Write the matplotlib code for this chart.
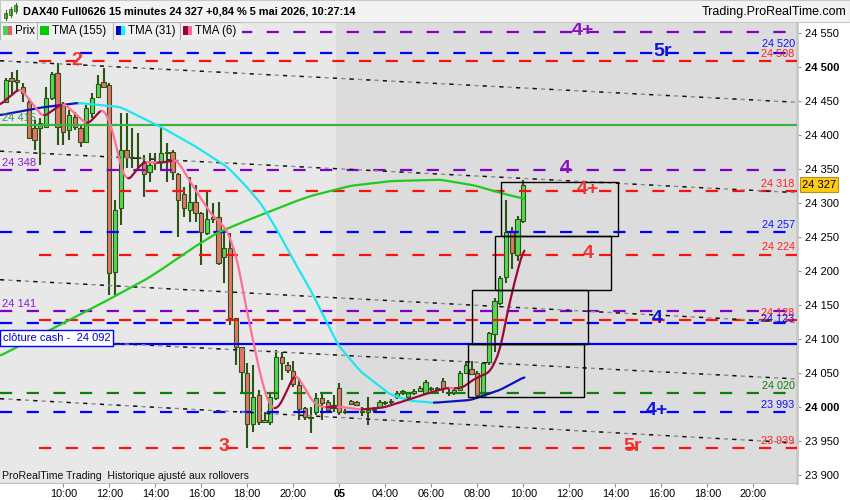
import numpy as np
import matplotlib
matplotlib.use('Agg')
import matplotlib.pyplot as plt
from matplotlib.patches import Rectangle

plt.rcParams['font.family'] = ['Liberation Sans', 'DejaVu Sans']

# ---- candles (15 min), x = candle index, 0 = 10:00 on 4 May ----
candle_idx = np.arange(-10, 81)
opens = [
    24448, 24484, 24481, 24471, 24448, 24410, 24410, 24412, 24454, 24491,
    24444, 24407, 24426, 24410, 24390, 24432, 24456, 24478, 24473, 24198,
    24293, 24378, 24368, 24366, 24360, 24346, 24359, 24360, 24374, 24375,
    24343, 24313, 24290, 24301, 24285, 24256, 24279, 24279, 24221, 24234,
    24131, 24088, 24050, 23975, 24018, 23977, 23977, 24013, 24074, 24062,
    24052, 24032, 23998, 23985, 23993, 24013, 24007, 23999, 24028, 23994,
    24009, 24007, 23994, 23993, 23995, 24000, 24005, 24007, 24015, 24023,
    24015, 24020, 24024, 24021, 24026, 24027, 24038, 24022, 24021, 24025,
    24050, 24056, 24050, 24015, 24066, 24107, 24153, 24191, 24259, 24224,
    24274]
highs = [
    24484, 24493, 24496, 24476, 24454, 24422, 24425, 24471, 24493, 24506,
    24448, 24437, 24434, 24415, 24444, 24462, 24488, 24499, 24476, 24304,
    24432, 24432, 24410, 24403, 24371, 24374, 24374, 24410, 24388, 24378,
    24344, 24323, 24338, 24326, 24287, 24316, 24300, 24301, 24256, 24256,
    24131, 24088, 24065, 24062, 24025, 23993, 24021, 24084, 24080, 24066,
    24068, 24043, 24000, 24000, 24021, 24021, 24010, 24018, 24035, 23997,
    24010, 24009, 24000, 24015, 24000, 24010, 24009, 24012, 24023, 24025,
    24022, 24026, 24030, 24039, 24029, 24029, 24042, 24027, 24028, 24052,
    24068, 24068, 24052, 24066, 24110, 24160, 24193, 24304, 24264, 24280,
    24334]
lows = [
    24447, 24459, 24463, 24448, 24394, 24378, 24356, 24410, 24451, 24385,
    24385, 24393, 24407, 24382, 24388, 24425, 24454, 24469, 24165, 24165,
    24268, 24351, 24351, 24351, 24309, 24331, 24348, 24348, 24331, 24334,
    24250, 24279, 24272, 24272, 24209, 24253, 24271, 24209, 24182, 24120,
    24062, 24021, 23940, 23963, 23973, 23976, 23974, 24010, 24040, 24050,
    24029, 23981, 23981, 23962, 23988, 23981, 23993, 23993, 23988, 23990,
    24003, 24001, 23987, 23974, 23993, 23998, 24003, 24004, 24012, 24018,
    24012, 24018, 24022, 24019, 24024, 24025, 24020, 24016, 24018, 24023,
    24048, 24047, 24013, 24013, 24061, 24081, 24150, 24182, 24202, 24215,
    24271]
closes = [
    24481, 24479, 24478, 24462, 24396, 24393, 24418, 24454, 24490, 24412,
    24404, 24429, 24412, 24390, 24440, 24454, 24475, 24470, 24197, 24290,
    24378, 24368, 24366, 24368, 24343, 24356, 24360, 24374, 24375, 24346,
    24304, 24293, 24301, 24285, 24257, 24276, 24276, 24212, 24234, 24131,
    24088, 24051, 23975, 24015, 23977, 23980, 24015, 24074, 24065, 24054,
    24034, 23997, 23985, 23984, 24013, 24006, 23996, 24002, 23993, 23993,
    24004, 24003, 23992, 23995, 23997, 24007, 24006, 24008, 24021, 24020,
    24021, 24023, 24028, 24037, 24027, 24026, 24028, 24021, 24025, 24050,
    24062, 24049, 24018, 24065, 24108, 24155, 24190, 24257, 24226, 24276,
    24327]

# ---- moving averages ----
tma155_idx = [-11, 6.4, 14.3, 16.9, 22.6, 26.8, 31.3, 34.3, 40.0, 43.0, 49.9, 56.9, 65.6, 71.3, 77.2, 80.2]
tma155_val = [24075, 24151, 24187, 24201, 24234, 24256, 24272, 24282, 24301, 24310, 24325, 24332, 24334, 24326, 24312, 24306]

tma31_idx = [-11, -4.0, 2.6, 9.9, 16.9, 22.6, 28.5, 31.3, 34.3, 37.2, 40.0, 43.0, 47.8, 51.7, 56.9, 60.3, 64.4, 70.8, 76.0, 80.2]
tma31_val = [24429, 24440, 24447, 24441, 24412, 24385, 24353, 24329, 24300, 24260, 24216, 24172, 24091, 24052, 24018, 24009, 24006, 24010, 24025, 24044]

tma6_idx = [-11, -7.5, -3.5, 0, 4.2, 7.0, 8.7, 9.9, 11.1, 13.9, 16.9, 19.8, 22.6, 25.6, 28.5, 30.3, 31.3, 32.5, 33.7, 34.8,
            36.0, 37.2, 38.6, 40.3, 41.7, 43.5, 45.2, 48.2, 51.7, 55.7, 59.8, 63.8, 66.8, 68.5, 69.6, 71.3, 74.3, 76.0, 77.2, 79.0, 80.2]
tma6_val = [24444, 24469, 24426, 24447, 24415, 24440, 24404, 24356, 24331, 24360, 24359, 24363, 24324, 24285, 24260, 24216, 24168, 24118, 24069, 24029,
            24000, 23996, 24018, 24050, 24032, 24006, 23999, 24000, 23996, 23999, 24010, 24021, 24028, 24027, 24029, 24040, 24052, 24084, 24138, 24201, 24235]

# ---- horizontal levels ----
level_price = [24551, 24520, 24508, 24415, 24348, 24318, 24257, 24224, 24141, 24128, 24123, 24092, 24020, 23993, 23939]
level_kind = ['purple', 'blue', 'red', 'green', 'purple', 'red', 'blue', 'red', 'purple', 'red', 'blue', 'blue', 'dgreen', 'blue', 'red']
level_solid = [False, False, False, True, False, False, False, False, False, False, False, True, False, False, False]

right_labels = ['24 520', '24 508', '24 318', '24 257', '24 224', '24 128', '24 123', '24 020', '23 993', '23 939']
right_label_price = [24520, 24508, 24318, 24257, 24224, 24128, 24123, 24020, 23993, 23939]
right_label_kind = ['blue', 'red', 'red', 'blue', 'red', 'red', 'blue', 'dgreen', 'blue', 'red']

left_labels = ['24 415', '24 348', '24 141']
left_label_price = [24415, 24348, 24141]
left_label_kind = ['green', 'purple', 'purple']

big_text = ['2', '4+', '5r', '4', '4+', '4', '4', '4+', '3', '5r']
big_x = [2.4, 90.3, 104.2, 87.3, 91.3, 91.3, 103.3, 103.3, 28.0, 99.1]
big_price = [24508, 24551, 24520, 24348, 24318, 24224, 24128, 23993, 23939, 23939]
big_kind = ['red', 'purple', 'blue', 'purple', 'red', 'red', 'blue', 'blue', 'red', 'red']

# channel lines (price at left and right edge)
channel_left = [24509, 24376, 24187, 24102, 24012]
channel_right = [24448, 24315, 24124, 24041, 23947]

# projection boxes
box_x0 = [76.2, 75.1, 71.1, 70.3]
box_lo = [24252, 24172, 24093, 24014]
box_hi = [24331, 24252, 24172, 24092]
box_len = 20.2

tick_pos = [0, 8, 16, 24, 32, 40, 48, 56, 64, 72, 80, 88, 96, 104, 112, 120]
tick_lab = ['10:00', '12:00', '14:00', '16:00', '18:00', '20:00', '05', '04:00', '06:00',
            '08:00', '10:00', '12:00', '14:00', '16:00', '18:00', '20:00']

colors = {'purple': '#8000c8', 'blue': '#0000ff', 'red': '#ff1010', 'green': '#3cb43c',
          'dgreen': '#0a820a'}
text_colors = {'purple': '#8a1ad0', 'blue': '#1010ff', 'red': '#ff2020', 'green': '#2a9a50',
               'dgreen': '#0a820a'}
big_colors = {'purple': '#8a10c0', 'blue': '#1010e0', 'red': '#ee3333'}

XMIN, XMAX = -11, 127.6
YMIN, YMAX = 23888, 24566

fig = plt.figure(figsize=(8.5, 5), dpi=100, facecolor='white')
ax = fig.add_axes([0, 17 / 500, 797 / 850, 461 / 500])

# background: lighter for 4 May, darker for 5 May
def grad(top, bottom):
    g = np.linspace(top, bottom, 256)
    return np.dstack([g, g, g])[:, :1, :].repeat(2, axis=1)

ax.imshow(grad(0.91, 0.755), extent=[XMIN, 47.5, YMIN, YMAX], aspect='auto', zorder=0)
ax.imshow(grad(0.865, 0.70), extent=[47.5, XMAX, YMIN, YMAX], aspect='auto', zorder=0)

# candles
up_col, dn_col, edge = '#55d855', '#e8736a', '#2c5414'
ax.vlines(candle_idx, lows, highs, color=edge, lw=1.5, zorder=3)
for i, o, c in zip(candle_idx, opens, closes):
    h = max(abs(c - o), 1.5)
    ax.bar(i, h, bottom=min(o, c), width=0.76, color=up_col if c >= o else dn_col,
           edgecolor=edge, linewidth=0.8, zorder=4)

# levels
for p, k, s in zip(level_price, level_kind, level_solid):
    x0 = -4.2 if k == 'red' else XMIN
    if s:
        ax.plot([x0, XMAX], [p, p], color=colors[k], lw=1.6, zorder=5)
    else:
        ax.plot([x0, XMAX], [p, p], color=colors[k], lw=1.6, dashes=(5.5, 6.5), zorder=5)

# channel lines
for a, b in zip(channel_left, channel_right):
    ax.plot([XMIN, XMAX], [a, b], color='#8c8c8c', lw=1.0, dashes=(3, 3), zorder=5)
    ax.plot([XMIN, XMAX], [a, b], color='#111111', lw=1.0, dashes=(3, 9), zorder=5)


def draw_ma(idx, vals, c_up, c_dn, lw):
    xs = np.linspace(idx[0], idx[-1], 900)
    ys = np.interp(xs, idx, vals)
    k = 15
    ys = np.convolve(np.pad(ys, k // 2, mode='edge'), np.ones(k) / k, mode='valid')
    rising = np.diff(ys) >= 0
    start = 0
    for i in range(1, len(rising) + 1):
        if i == len(rising) or rising[i] != rising[start]:
            ax.plot(xs[start:i + 1], ys[start:i + 1], color=c_up if rising[start] else c_dn,
                    lw=lw, solid_capstyle='round', zorder=6)
            start = i


draw_ma(tma155_idx, tma155_val, '#1ecb1e', '#1ecb1e', 1.6)
draw_ma(tma31_idx, tma31_val, '#0a14b8', '#1ee6f0', 1.6)
draw_ma(tma6_idx, tma6_val, '#9a0a3a', '#ff7096', 1.6)

# boxes
for x0, lo, hi in zip(box_x0, box_lo, box_hi):
    ax.add_patch(Rectangle((x0, lo), box_len, hi - lo, fill=False, edgecolor='black', lw=1.0, zorder=7))

# labels (blue ones of a close pair sit a bit higher / lower, as in the source)
for t, p, k in zip(right_labels, right_label_price, right_label_kind):
    off = 3
    if t == '24 520':
        off = 6.5
    elif t == '24 123':
        off = -1
    ax.text(127.2, p + off, t, color=text_colors[k], fontsize=7.8, ha='right', va='bottom', zorder=8)
for t, p, k in zip(left_labels, left_label_price, left_label_kind):
    ax.text(-10.6, p + 3, t, color=text_colors[k], fontsize=8, ha='left', va='bottom', zorder=8)
for t, x, p, k in zip(big_text, big_x, big_price, big_kind):
    ax.text(x, p + 2, t, color=big_colors[k], fontsize=14, fontweight='bold', ha='center', va='center', zorder=8)

ax.text(-10.5, 24101, 'clôture cash -  24 092', color='#0000cc', fontsize=8, ha='left', va='center', zorder=9,
        bbox=dict(boxstyle='square,pad=0.25', fc='white', ec='#0000ff', lw=1.0))
ax.text(0.003, 0.016, 'ProRealTime Trading  Historique ajusté aux rollovers', transform=ax.transAxes,
        fontsize=7.6, ha='left', va='center', color='#111111', zorder=9)

ax.text(1.006, 24327, '24 327', transform=ax.get_yaxis_transform(), fontsize=8, ha='left', va='center',
        color='black', bbox=dict(boxstyle='square,pad=0.2', fc='#ffcc11', ec='#b09020', lw=0.8), zorder=10)

ax.set_xlim(XMIN, XMAX)
ax.set_ylim(YMIN, YMAX)

# axes and ticks
ax.yaxis.tick_right()
yt = np.arange(23900, 24551, 50)
ax.set_yticks(yt)
ax.set_yticklabels(['{:,}'.format(v).replace(',', ' ') for v in yt])
for lab, v in zip(ax.get_yticklabels(), yt):
    if v % 500 == 0:
        lab.set_fontweight('bold')
        lab.set_fontsize(9)
ax.tick_params(axis='y', direction='out', length=3, color='#909090', labelsize=8, pad=3)
ax.set_xticks(tick_pos)
ax.set_xticklabels(tick_lab)
for lab in ax.get_xticklabels():
    if lab.get_text() == '05':
        lab.set_fontweight('bold')
        lab.set_fontsize(9.5)
ax.tick_params(axis='x', direction='out', length=3, color='#909090', labelsize=7.8, pad=1.5)
for s in ['top', 'left']:
    ax.spines[s].set_visible(False)
ax.spines['bottom'].set_color('#c0c0c0')
ax.spines['right'].set_color('#c8c8c8')
ax.spines['right'].set_linewidth(2)

# title bar
tax = fig.add_axes([0, 478 / 500, 1, 22 / 500])
tax.set_xlim(0, 850)
tax.set_ylim(22, 0)
tax.set_facecolor('#f3f3f3')
tax.set_xticks([])
tax.set_yticks([])
for s in tax.spines.values():
    s.set_color('#c8c8c8')
for x, b0, b1, w0, w1 in [(6, 13, 18, 10, 20), (11, 9, 15, 7, 17), (16, 5, 11, 3, 13)]:
    tax.plot([x, x], [w0, w1], color='#3a6a20', lw=0.8)
    tax.add_patch(Rectangle((x - 1.5, b0), 3, b1 - b0, fc='#55d855', ec='#3a6a20', lw=0.6))
tax.text(23, 12, 'DAX40 Full0626 15 minutes 24 327 +0,84 % 5 mai 2026, 10:27:14', fontsize=7.9,
         fontweight='bold', ha='left', va='center', color='black')
tax.text(846, 12, 'Trading.ProRealTime.com', fontsize=9, ha='right', va='center', color='black')

# legend row
lax = fig.add_axes([0, 460 / 500, 242 / 850, 18 / 500])
lax.set_xlim(0, 242)
lax.set_ylim(18, 0)
lax.axis('off')
legend_items = [('Prix', 0, 37, '#55cc55', '#e06060'), ('TMA (155)', 37, 113, '#00cc00', '#00cc00'),
                ('TMA (31)', 113, 180, '#0000cc', '#00ffff'), ('TMA (6)', 180, 242, '#99003d', '#ff6b8f')]
for name, x0, x1, c1, c2 in legend_items:
    lax.add_patch(Rectangle((x0, 0.3), x1 - x0 - 0.5, 17.4, fc='#f0f0f0', ec='#b4b4b4', lw=0.8))
    lax.add_patch(Rectangle((x0 + 3, 4), 4.5, 9.5, fc=c1, ec='none'))
    lax.add_patch(Rectangle((x0 + 7.5, 4), 4.5, 9.5, fc=c2, ec='none'))
    lax.text(x0 + 15, 9, name, fontsize=8.3, ha='left', va='center', color='black')

fig.savefig('out.png', dpi=100)
